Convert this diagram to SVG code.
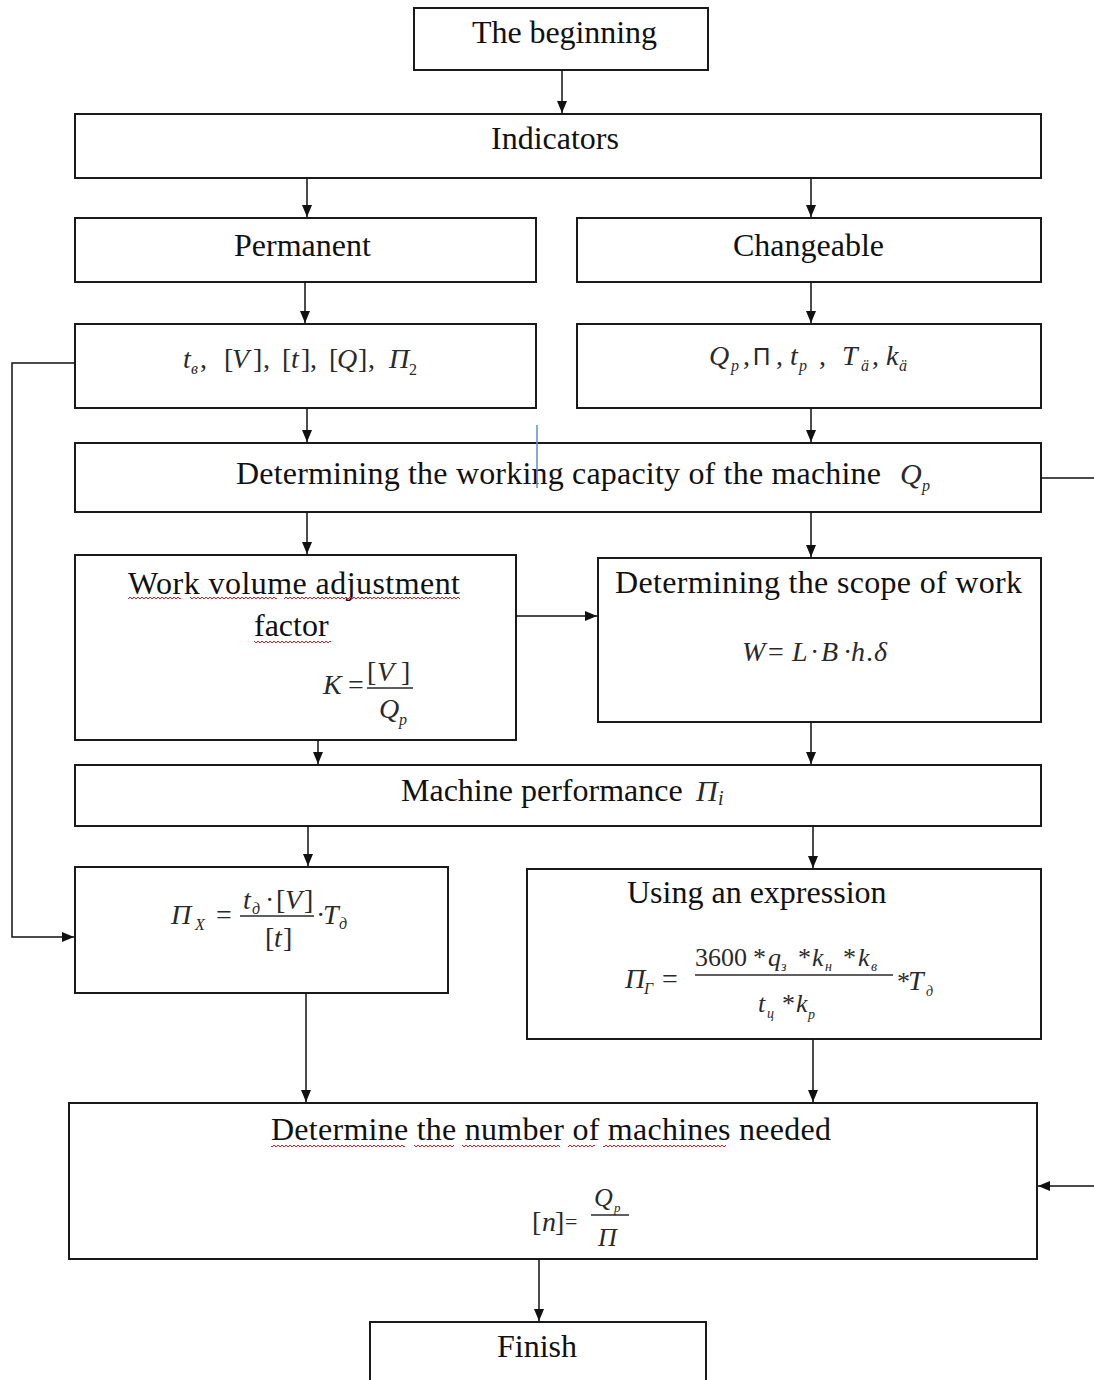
<svg xmlns="http://www.w3.org/2000/svg" width="1094" height="1380" viewBox="0 0 1094 1380">
<style>
.box{fill:#fff;stroke:#1a1a1a;stroke-width:2}
.t{font-family:"Liberation Serif","Times New Roman",serif;font-size:32px;fill:#111}
.m{font-family:"Liberation Serif","Times New Roman",serif;font-style:italic;font-size:28px;fill:#2a2a2a}
.u{font-style:normal}
.s{font-size:16px}
.g{font-size:26px}
.gs{font-size:14px}
.fl{stroke:#2a2a2a;stroke-width:1.5}
.conn path{stroke:#111;stroke-width:1.5;fill:none}
.wv{fill:url(#wave)}
</style>
<defs>
<marker id="ah" markerUnits="userSpaceOnUse" markerWidth="12" markerHeight="10" refX="12" refY="5" orient="auto">
<path d="M0,0 L12,5 L0,10 z" fill="#111"/>
</marker>
<pattern id="wave" patternUnits="userSpaceOnUse" width="4" height="4">
<path d="M0,3 L2,1 L4,3" fill="none" stroke="#e02020" stroke-width="1"/>
</pattern>
</defs>
<rect width="1094" height="1380" fill="#fff"/>

<g id="n-begin">
<rect class="box" x="414" y="8" width="294" height="62"/>
<text class="t" x="472" y="43" textLength="185" lengthAdjust="spacing">The beginning</text>
</g>
<g id="n-indicators">
<rect class="box" x="75" y="114" width="966" height="64"/>
<text class="t" x="491" y="149">Indicators</text>
</g>
<g id="n-permanent">
<rect class="box" x="75" y="218" width="461" height="64"/>
<text class="t" x="234" y="256">Permanent</text>
</g>
<g id="n-changeable">
<rect class="box" x="577" y="218" width="464" height="64"/>
<text class="t" x="733" y="256">Changeable</text>
</g>
<g id="n-perm-params">
<rect class="box" x="75" y="324" width="461" height="84"/>
<text class="m" x="183" y="368">t</text><text class="m s" x="191" y="374">в</text><text class="m u" x="200" y="368">,</text>
<text class="m u" x="224" y="368">[</text><text class="m" x="232" y="368">V</text><text class="m u" x="253" y="368">]</text><text class="m u" x="263" y="368">,</text>
<text class="m u" x="282" y="368">[</text><text class="m" x="291" y="368">t</text><text class="m u" x="301" y="368">]</text><text class="m u" x="310" y="368">,</text>
<text class="m u" x="329" y="368">[</text><text class="m" x="337" y="368">Q</text><text class="m u" x="358" y="368">]</text><text class="m u" x="368" y="368">,</text>
<text class="m" x="389" y="368">П</text><text class="m s u" x="409" y="375">2</text>
</g>
<g id="n-change-params">
<rect class="box" x="577" y="324" width="464" height="84"/>
<text class="m" x="709" y="365">Q</text><text class="m s" x="731" y="371">р</text><text class="m u" x="743" y="365">,</text>
<text class="m u" x="753" y="365" style="font-family:'Liberation Sans',sans-serif;font-size:24px">П</text><text class="m u" x="776" y="365">,</text>
<text class="m" x="790" y="365">t</text><text class="m s" x="799" y="371">р</text><text class="m u" x="819" y="365">,</text>
<text class="m" x="842" y="365">T</text><text class="m s" x="861" y="371">ä</text><text class="m u" x="872" y="365">,</text>
<text class="m" x="886" y="365">k</text><text class="m s" x="899" y="371">ä</text>
</g>
<g id="n-capacity">
<rect class="box" x="75" y="443" width="966" height="69"/>
<text class="t" x="236" y="484" textLength="645" lengthAdjust="spacing">Determining the working capacity of the machine</text>
<text class="m" x="900" y="484" style="font-size:30px">Q</text><text class="m s" x="922" y="491">p</text>
<line x1="537" y1="425" x2="537" y2="488" stroke="#5b8fd6" stroke-width="1.5"/>
</g>
<g id="n-adjust">
<rect class="box" x="75" y="555" width="441" height="185"/>
<text class="t" x="128" y="594" textLength="332" lengthAdjust="spacing">Work volume adjustment</text>
<rect class="wv" x="128" y="597" width="53" height="4"/><rect class="wv" x="190" y="597" width="87" height="4"/><rect class="wv" x="284" y="597" width="176" height="4"/>
<text class="t" x="254" y="636">factor</text>
<rect class="wv" x="254" y="639" width="77" height="4"/>
<text class="m" x="323" y="694">K</text><text class="m u" x="348" y="694">=</text>
<text class="m u" x="367" y="681">[</text><text class="m" x="377" y="681">V</text><text class="m u" x="401" y="681">]</text>
<line class="fl" x1="367" y1="688" x2="413" y2="688"/>
<text class="m" x="379" y="718">Q</text><text class="m s" x="399" y="725">p</text>
</g>
<g id="n-scope">
<rect class="box" x="598" y="558" width="443" height="164"/>
<text class="t" x="615" y="593" textLength="407" lengthAdjust="spacing">Determining the scope of work</text>
<text class="m" x="742" y="661">W</text><text class="m u" x="768" y="661">=</text><text class="m" x="792" y="661">L</text>
<text class="m u" x="810" y="661">·</text><text class="m" x="821" y="661">B</text><text class="m u" x="843" y="661">·</text>
<text class="m" x="851" y="661">h</text><text class="m u" x="866" y="661">.</text><text class="m" x="874" y="661">δ</text>
</g>
<g id="n-performance">
<rect class="box" x="75" y="765" width="966" height="61"/>
<text class="t" x="401" y="801">Machine performance</text>
<text class="m" x="696" y="801" style="font-size:30px">П</text><text class="m" x="718" y="805" style="font-size:20px">i</text>
</g>
<g id="n-px">
<rect class="box" x="75" y="867" width="373" height="126"/>
<text class="m" x="171" y="924">П</text><text class="m s" x="195" y="930">X</text>
<text class="m u" x="216" y="924">=</text>
<text class="m" x="243" y="909">t</text><text class="m s" x="252" y="914">д</text><text class="m u" x="265" y="909">·</text>
<text class="m u" x="276" y="909">[</text><text class="m" x="285" y="909">V</text><text class="m u" x="304" y="909">]</text>
<line class="fl" x1="240" y1="916" x2="314" y2="916"/>
<text class="m u" x="265" y="947">[</text><text class="m" x="274" y="947">t</text><text class="m u" x="283" y="947">]</text>
<text class="m u" x="316" y="924">·</text><text class="m" x="323" y="924">T</text><text class="m s" x="339" y="929">д</text>
</g>
<g id="n-expression">
<rect class="box" x="527" y="869" width="514" height="170"/>
<text class="t" x="627" y="903">Using an expression</text>
<text class="m" x="625" y="988">П</text><text class="m s" x="644" y="994">Г</text>
<text class="m u" x="662" y="988">=</text>
<text class="m u g" x="695" y="966">3600</text><text class="m u g" x="753" y="966">*</text>
<text class="m g" x="768" y="966">q</text><text class="m gs" x="781" y="971">з</text>
<text class="m u g" x="798" y="966">*</text><text class="m g" x="812" y="966">k</text><text class="m gs" x="825" y="971">н</text>
<text class="m u g" x="843" y="966">*</text><text class="m g" x="858" y="966">k</text><text class="m gs" x="871" y="971">в</text>
<line class="fl" x1="695" y1="975" x2="893" y2="975"/>
<text class="m g" x="758" y="1012">t</text><text class="m gs" x="767" y="1018">ц</text>
<text class="m u g" x="782" y="1012">*</text><text class="m g" x="796" y="1012">k</text><text class="m gs" x="808" y="1019">р</text>
<text class="m u g" x="897" y="990">*</text><text class="m" x="908" y="990">T</text><text class="m gs" x="926" y="996">д</text>
</g>
<g id="n-number">
<rect class="box" x="69" y="1103" width="968" height="156"/>
<text class="t" x="271" y="1140" textLength="560" lengthAdjust="spacing">Determine the number of machines needed</text>
<rect class="wv" x="271" y="1143" width="134" height="4"/><rect class="wv" x="414" y="1143" width="40" height="4"/><rect class="wv" x="462" y="1143" width="98" height="4"/><rect class="wv" x="568" y="1143" width="27" height="4"/><rect class="wv" x="603" y="1143" width="123" height="4"/>
<text class="m u" x="532" y="1231">[</text><text class="m" x="542" y="1231">n</text><text class="m u" x="555" y="1231">]</text>
<text class="m u" x="565" y="1229" style="font-size:22px">=</text>
<text class="m" x="594" y="1206" style="font-size:26px">Q</text><text class="m" x="614" y="1212" style="font-size:13px">p</text>
<line class="fl" x1="591" y1="1215" x2="629" y2="1215"/>
<text class="m" x="598" y="1246" style="font-size:26px">П</text>
</g>
<g id="n-finish">
<rect class="box" x="370" y="1322" width="336" height="70"/>
<text class="t" x="497" y="1357">Finish</text>
</g>

<g id="connectors" class="conn">
<path d="M562,70 V113" marker-end="url(#ah)"/>
<path d="M307,178 V217" marker-end="url(#ah)"/>
<path d="M811,178 V217" marker-end="url(#ah)"/>
<path d="M305,282 V323" marker-end="url(#ah)"/>
<path d="M811,282 V323" marker-end="url(#ah)"/>
<path d="M307,408 V442" marker-end="url(#ah)"/>
<path d="M811,408 V442" marker-end="url(#ah)"/>
<path d="M307,512 V554" marker-end="url(#ah)"/>
<path d="M811,512 V557" marker-end="url(#ah)"/>
<path d="M516,616 H597" marker-end="url(#ah)"/>
<path d="M318,740 V764" marker-end="url(#ah)"/>
<path d="M811,722 V764" marker-end="url(#ah)"/>
<path d="M308,826 V866" marker-end="url(#ah)"/>
<path d="M813,826 V868" marker-end="url(#ah)"/>
<path d="M306,993 V1102" marker-end="url(#ah)"/>
<path d="M813,1039 V1102" marker-end="url(#ah)"/>
<path d="M539,1259 V1321" marker-end="url(#ah)"/>
<path d="M75,363 H12 V937 H74" marker-end="url(#ah)"/>
<path d="M1041,478 H1094"/>
<path d="M1094,1186 H1038" marker-end="url(#ah)"/>
</g>
</svg>
